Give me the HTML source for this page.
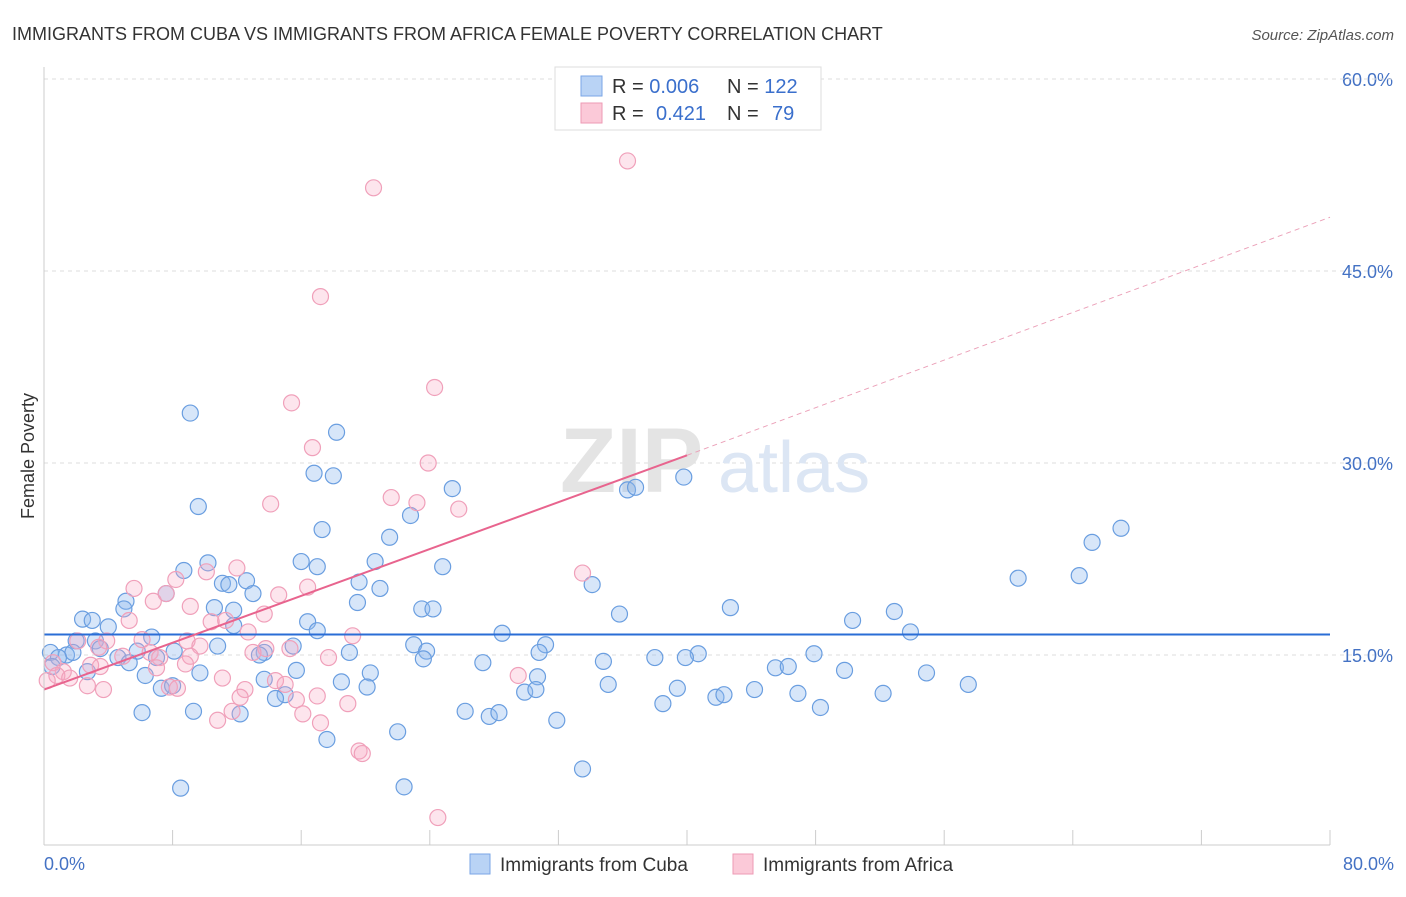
<!DOCTYPE html>
<html><head><meta charset="utf-8"><style>
body{margin:0;background:#fff;font-family:"Liberation Sans",sans-serif;}
svg text{font-family:"Liberation Sans",sans-serif;}
</style></head><body>
<svg id="chart" width="1406" height="892">
<text x="12" y="40" font-size="18" fill="#333">IMMIGRANTS FROM CUBA VS IMMIGRANTS FROM AFRICA FEMALE POVERTY CORRELATION CHART</text>
<text x="1394" y="40" font-size="15" fill="#555" font-style="italic" text-anchor="end">Source: ZipAtlas.com</text>
<text x="34" y="456" font-size="18" fill="#333" text-anchor="middle" transform="rotate(-90 34 456)">Female Poverty</text>
<g id="grid"></g>
<text x="560" y="492" font-size="92" fill="#e4e4e4" font-weight="bold" font-family="Liberation Serif">ZIP</text>
<text x="718" y="492" font-size="72" fill="#dce6f4">atlas</text>
<g id="pts"></g>
<g id="lines"></g>
<line x1="44" y1="67" x2="44" y2="845" stroke="#ccc"/>
<line x1="44" y1="845" x2="1330" y2="845" stroke="#ccc"/>
<g id="xt"></g>
<text x="44" y="870" font-size="18" fill="#4472c4">0.0%</text>
<text x="1394" y="870" font-size="18" fill="#4472c4" text-anchor="end">80.0%</text>
<g>
<rect x="555" y="67" width="266" height="63" fill="#fff" stroke="#ddd"/>
<rect x="581" y="76" width="21" height="20" fill="#b9d3f5" stroke="#7aa6e6"/>
<rect x="581" y="103" width="21" height="20" fill="#fbc9d8" stroke="#ee9ab4"/>
<text x="612" y="93" font-size="20" fill="#333">R = <tspan fill="#3a6fcc">0.006</tspan></text>
<text x="727" y="93" font-size="20" fill="#333">N = <tspan fill="#3a6fcc">122</tspan></text>
<text x="612" y="120" font-size="20" fill="#333">R = <tspan fill="#3a6fcc" x="656">0.421</tspan></text>
<text x="727" y="120" font-size="20" fill="#333">N = <tspan fill="#3a6fcc" x="772">79</tspan></text>
</g>
<g>
<rect x="470" y="854" width="20" height="20" fill="#b9d3f5" stroke="#7aa6e6"/>
<text x="500" y="871" font-size="19" fill="#333">Immigrants from Cuba</text>
<rect x="733" y="854" width="20" height="20" fill="#fbc9d8" stroke="#ee9ab4"/>
<text x="763" y="871" font-size="19" fill="#333">Immigrants from Africa</text>
</g>
</svg>
<script>
const yTicks=[15,30,45,60];
const yTickLabels=["15.0%","30.0%","45.0%","60.0%"];
const xTicks=[0,8,16,24,32,40,48,56,64,72,80];
const cubaX=[9.1,9.6,18.2,16.8,18.0,36.3,36.8,39.8,25.4,22.8,17.3,21.5,67.0,65.2,64.4,60.6,10.2,8.7,16.0,17.0,20.6,24.8,11.1,11.5,12.6,19.6,20.9,34.1,7.6,13.0,5.1,4.97,19.5,10.6,11.8,23.5,24.2,35.8,42.7,52.9,50.3,2.4,3.0,4.0,11.8,16.4,53.9,17.0,28.5,6.7,3.2,2.0,15.5,10.8,23.0,31.2,0.4,1.4,1.8,3.5,5.8,8.1,13.7,19.0,23.8,30.8,40.7,47.9,0.9,4.6,7.0,13.4,23.6,27.3,34.8,38.0,39.9,5.3,45.5,46.3,49.8,54.9,0.5,2.7,6.3,9.7,15.7,20.3,30.7,13.7,7.3,8.0,18.5,20.1,35.1,39.4,44.2,57.5,15.0,14.4,29.9,30.6,41.8,42.3,46.9,52.2,38.5,48.3,6.1,9.3,12.2,26.2,27.7,28.3,31.9,22.0,17.6,33.5,8.5,22.4];
const cubaY=[33.9,26.6,32.4,29.2,29.0,27.9,28.1,28.9,28.0,25.9,24.8,24.2,24.9,23.8,21.2,21.0,22.2,21.6,22.3,21.9,22.3,21.9,20.6,20.5,20.8,20.7,20.2,20.5,19.8,19.8,19.2,18.6,19.1,18.7,18.5,18.6,18.6,18.2,18.7,18.4,17.7,17.8,17.7,17.2,17.3,17.6,16.8,16.9,16.7,16.4,16.1,16.1,15.7,15.7,15.8,15.8,15.2,15.0,15.2,15.5,15.3,15.3,15.2,15.2,15.3,15.2,15.1,15.1,14.8,14.8,14.8,15.0,14.7,14.4,14.5,14.8,14.8,14.4,14.0,14.1,13.8,13.6,14.1,13.7,13.4,13.6,13.8,13.6,13.3,13.1,12.4,12.6,12.9,12.5,12.7,12.4,12.3,12.7,11.9,11.6,12.1,12.3,11.7,11.9,12.0,12.0,11.2,10.9,10.5,10.6,10.4,10.6,10.2,10.5,9.9,9.0,8.4,6.1,4.6,4.7];
const africaX=[36.3,20.5,17.2,24.3,15.4,16.7,23.9,21.6,23.2,25.8,14.1,12.0,33.5,10.1,8.2,5.6,16.4,7.6,14.6,6.8,9.1,13.7,5.3,10.4,11.3,12.7,19.2,2.1,3.9,6.1,8.9,15.3,3.4,9.7,13.8,6.6,13.0,4.9,7.2,9.1,17.7,0.56,2.9,3.5,8.8,1.2,7.0,0.8,1.6,11.1,29.5,0.2,14.4,15.0,2.7,7.8,8.3,12.5,3.7,12.2,15.7,17.0,18.9,16.1,11.7,10.8,17.2,19.6,19.8,24.5];
const africaY=[53.6,51.5,43.0,35.9,34.7,31.2,30.0,27.3,26.9,26.4,26.8,21.8,21.4,21.5,20.9,20.2,20.3,19.8,19.7,19.2,18.8,18.2,17.7,17.6,17.7,16.8,16.5,16.1,16.1,16.2,16.1,15.5,15.6,15.7,15.5,15.2,15.2,14.9,14.8,14.9,14.8,14.4,14.2,14.1,14.3,13.7,14.0,13.4,13.2,13.2,13.4,13.0,13.0,12.7,12.6,12.5,12.4,12.3,12.3,11.7,11.5,11.8,11.2,10.4,10.6,9.9,9.7,7.5,7.3,2.3];
const cubaTrend=[16.6,16.6];
const africaTrend=[12.3,30.6,49.2];
const trendX=[0,40,80];
const NS='http://www.w3.org/2000/svg';
const sx=v=>44+v/80*1286;
const sy=v=>847-v*12.8;
function mk(p,tag,at){const e=document.createElementNS(NS,tag);for(const k in at)e.setAttribute(k,at[k]);p.appendChild(e);return e;}
const grid=document.getElementById('grid');
yTicks.forEach((t,i)=>{
 const l=mk(grid,'line',{x1:44,x2:1394,y1:sy(t),y2:sy(t),stroke:'#ddd','stroke-dasharray':'4,4'});
 
 
 const tx=mk(grid,'text',{x:1393,y:sy(t)+7,'font-size':18,fill:'#4472c4','text-anchor':'end'});
 tx.textContent=yTickLabels[i];
 
 
});
const tg=mk(grid,'line',{x1:44,x2:1394,y1:79,y2:79,stroke:'#ddd','stroke-dasharray':'4,4'});


const xt=document.getElementById('xt');
xTicks.forEach(t=>{
 const l=mk(xt,'line',{x1:sx(t),x2:sx(t),y1:830,y2:845,stroke:'#ccc'});
 
 
});
const pts=document.getElementById('pts');
cubaX.forEach((x,i)=>{
 const c=mk(pts,'circle',{cx:sx(x),cy:sy(cubaY[i]),r:8,fill:'rgba(140,182,238,0.35)',stroke:'#6a9ee0','stroke-width':1.2});
 
 
});
africaX.forEach((x,i)=>{
 const c=mk(pts,'circle',{cx:sx(x),cy:sy(africaY[i]),r:8,fill:'rgba(248,170,196,0.3)',stroke:'#f0a0ba','stroke-width':1.2});
 
 
});
const lg=document.getElementById('lines');
const b=mk(lg,'line',{x1:sx(0),y1:sy(cubaTrend[0]),x2:sx(80),y2:sy(cubaTrend[1]),stroke:'#2a6dd6','stroke-width':2});


const p=mk(lg,'line',{x1:sx(trendX[0]),y1:sy(africaTrend[0]),x2:sx(trendX[1]),y2:sy(africaTrend[1]),stroke:'#e8648e','stroke-width':2});


const pd=mk(lg,'line',{x1:sx(trendX[1]),y1:sy(africaTrend[1]),x2:sx(trendX[2]),y2:sy(africaTrend[2]),stroke:'#eba0b8','stroke-width':1,'stroke-dasharray':'5,4'});


</script>
</body></html>
